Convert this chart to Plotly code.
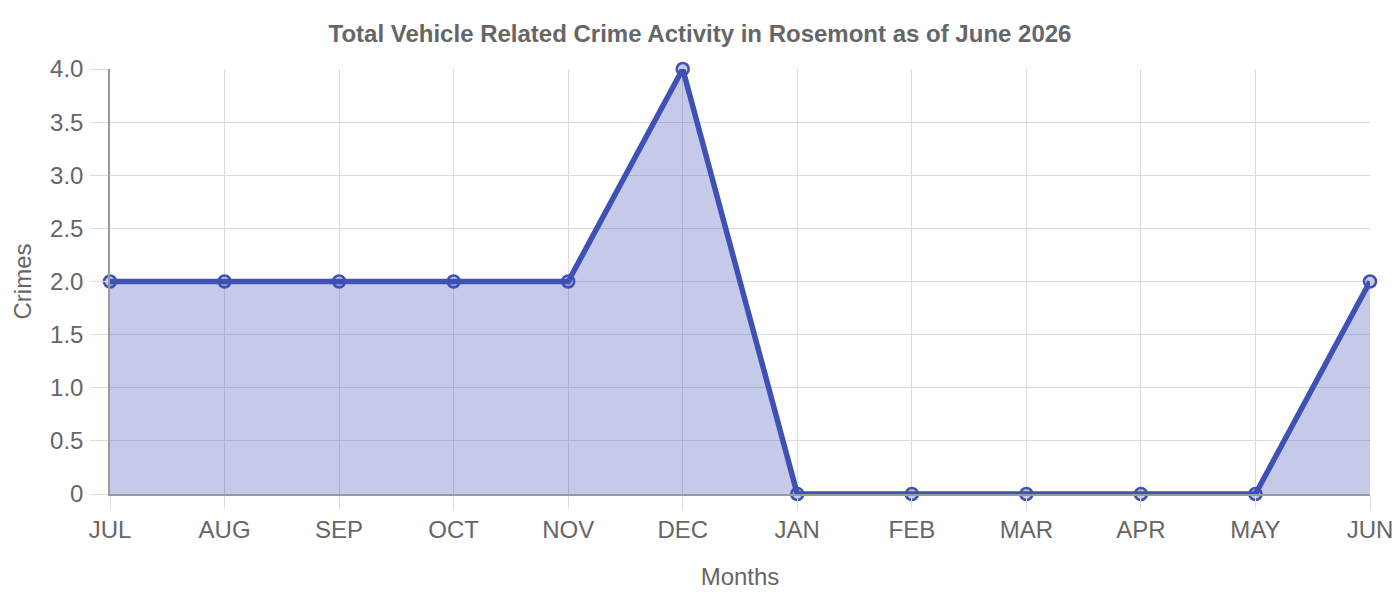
import plotly.graph_objects as go

months = ["JUL", "AUG", "SEP", "OCT", "NOV", "DEC", "JAN", "FEB", "MAR", "APR", "MAY", "JUN"]
crimes = [2, 2, 2, 2, 2, 4, 0, 0, 0, 0, 0, 2]
y_tickvals = [0, 0.5, 1, 1.5, 2, 2.5, 3, 3.5, 4]
y_ticktext = ["0", "0.5", "1.0", "1.5", "2.0", "2.5", "3.0", "3.5", "4.0"]

FONT = "Liberation Sans, Arial, sans-serif"
GRID = "#dcdcdc"
TXT = "#666666"

fig = go.Figure()
fig.add_trace(go.Scatter(
    x=months, y=crimes, mode="lines+markers",
    fill="tozeroy", fillcolor="rgba(63,81,181,0.3)",
    line=dict(color="#3f51b5", width=5.5),
    marker=dict(size=12, color="rgba(63,81,181,0.3)",
                line=dict(color="#3f51b5", width=2.5)),
    cliponaxis=False, hoverinfo="x+y",
))

fig.update_layout(
    width=1392, height=592,
    paper_bgcolor="white", plot_bgcolor="white",
    margin=dict(l=102, r=30, t=61, b=106),
    showlegend=False,
    font=dict(family=FONT, color=TXT, size=24),
    title=dict(text="<b>Total Vehicle Related Crime Activity in Rosemont as of June 2026</b>",
               x=692 / 1392, xanchor="center", xref="container",
               y=1 - 26 / 592, yref="container", yanchor="middle",
               font=dict(size=24, color=TXT, family=FONT)),
    xaxis=dict(
        type="category", range=[0, 11], automargin=False,
        showgrid=True, gridcolor=GRID, gridwidth=1,
        showline=True, linecolor="#9a9a9a", linewidth=1.5,
        ticks="outside", ticklen=13, tickcolor=GRID,
        tickfont=dict(size=24, color=TXT),
        title=dict(text="Months", font=dict(size=24, color=TXT), standoff=27),
        zeroline=False,
    ),
    yaxis=dict(
        range=[0, 4], tickvals=y_tickvals, ticktext=y_ticktext, automargin=False,
        showgrid=True, gridcolor=GRID, gridwidth=1,
        showline=True, linecolor="#9a9a9a", linewidth=1.5,
        ticks="outside", ticklen=18, tickcolor=GRID,
        tickfont=dict(size=24, color=TXT),
        ticklabelstandoff=2,
        title=dict(text="Crimes", font=dict(size=24, color=TXT), standoff=12),
        zeroline=False,
    ),
)

fig.write_html("out.html")
